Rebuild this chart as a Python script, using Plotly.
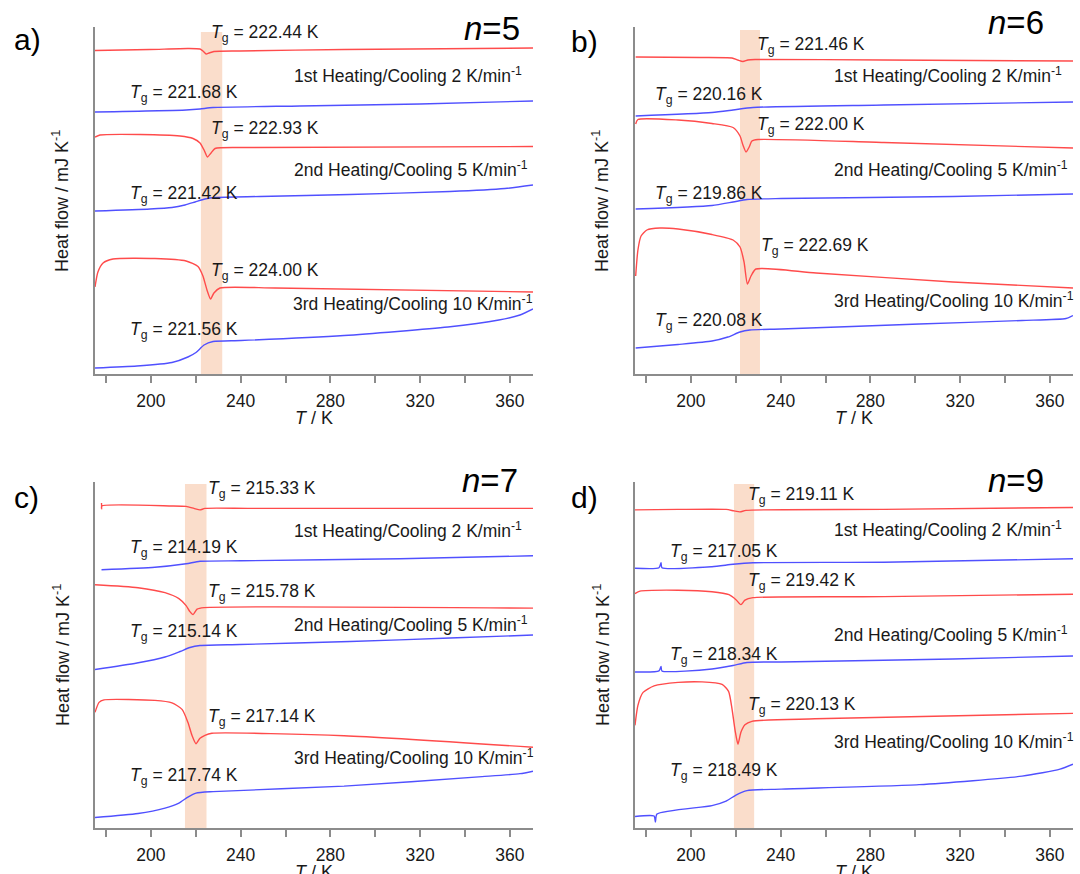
import plotly.graph_objects as go

# ---------------- data (T / K, heat flow offset in arbitrary units) ----------------
T_RANGE = [175.1, 370.3]
V_RANGE = [0, 347]
TICK_VALS = [180, 200, 220, 240, 260, 280, 300, 320, 340, 360]
TICK_TEXT = ["", "200", "", "240", "", "280", "", "320", "", "360"]
RUNS = ["1st Heating/Cooling 2 K/min", "2nd Heating/Cooling 5 K/min", "3rd Heating/Cooling 10 K/min"]
PANEL_TAGS = ["a)", "b)", "c)", "d)"]
PANEL_N = ["5", "6", "7", "9"]

# panel a (n=5)
a_heat1 = [(175.1, 323.5), (199.6, 324.5), (216.5, 325.5), (221.9, 325), (223.2, 323), (224.6, 320),
           (225.9, 321), (228.1, 322.5), (239.7, 323), (286.1, 324.5), (370.3, 326)]
a_cool1 = [(175.1, 262), (215.7, 264), (221.9, 265), (227.7, 266.5), (266.4, 268), (319.9, 270), (370.3, 273)]
a_heat2 = [(175.1, 237), (177.3, 239), (195.2, 239.5), (213, 238), (218.8, 235.5), (221.9, 231), (223.7, 224),
           (225.2, 217), (226.8, 221), (228.6, 225.5), (239.7, 226.5), (370.3, 227.5)]
a_cool2 = [(175.1, 163), (199.6, 165), (209.4, 166.5), (215.2, 169), (219.7, 172), (224.1, 175), (228.6, 176.5),
           (248.6, 177.5), (288.7, 179.5), (333.3, 182.5), (357.8, 185.5), (370.3, 189)]
a_heat3 = [(175.1, 87), (176.4, 102), (178.7, 111), (183.1, 115), (201.8, 115.5), (215.7, 113), (221, 107.5),
           (223.2, 98), (225, 84), (226.6, 75), (228.1, 81), (230.8, 86), (255.3, 86), (370.3, 82)]
a_cool3 = [(175.1, 6), (193.8, 8), (209.4, 11.5), (216.5, 17), (220.1, 21.5), (223.7, 29), (227.7, 32.5),
           (240.2, 33.5), (286.1, 38.5), (332.4, 47), (355.1, 54), (364.5, 59), (370.3, 65)]
a_tg = ["222.44", "221.68", "222.93", "221.42", "224.00", "221.56"]
a_band = [222.3, 231.8]

# panel b (n=6)
b_heat1 = [(175.4, 317), (204, 316.5), (218.3, 316), (220.9, 314), (223.2, 312.5), (225.4, 314), (228.6, 314.5),
           (286, 314), (370.3, 313)]
b_cool1 = [(175.4, 258), (209.4, 261.5), (218.8, 264), (227.7, 266.5), (286, 269), (370.3, 272)]
b_heat2 = [(175.4, 250), (176.4, 254.5), (194.3, 254), (209.4, 250.5), (218.8, 246.5), (221.9, 238), (223.2, 229),
           (224.6, 222), (226, 227), (227.2, 233), (229.9, 234.5), (286, 231.5), (370.3, 226)]
b_cool2 = [(175.4, 165), (209.4, 168.5), (218.8, 172), (225, 174.5), (240.2, 175.5), (316.8, 177.5), (370.3, 180)]
b_heat3 = [(175.4, 98), (176.4, 124), (177.8, 138), (180.4, 144), (186.2, 146), (194.3, 145), (209.4, 139.5),
           (218.8, 134), (221.9, 127), (223.7, 112), (225.2, 90), (226.8, 98), (229, 105), (255.8, 101),
           (316.8, 92), (370.3, 86)]
b_cool3 = [(175.4, 26), (194.3, 29.5), (209.4, 33), (216.5, 37), (221.9, 42), (226.3, 44), (240.2, 45),
           (301.7, 50), (347.6, 53.5), (367.2, 55.5), (370.3, 58.5)]
b_tg = ["221.46", "220.16", "222.00", "219.86", "222.69", "220.08"]
b_band = [221.9, 230.8]

# panel c (n=7)
c_heat1 = [(178, 326), (178.05, 320), (178.1, 323), (209.4, 323), (215.7, 322.5), (219.2, 320.5), (221.9, 319),
           (224.1, 320.5), (244.2, 320.5), (370.3, 320.5)]
c_cool1 = [(178, 259), (201.8, 261.5), (215.7, 265), (221.9, 267.5), (240.2, 268), (311, 270), (370.3, 273)]
c_heat2 = [(175.1, 244), (194.3, 241), (206.3, 236), (212.5, 230), (215.7, 223), (217.4, 217), (218.8, 214),
           (220.6, 219.5), (223.7, 221), (370.3, 220.5)]
c_cool2 = [(175.1, 159), (193.8, 165.5), (206.3, 171.5), (213, 177), (217.4, 181), (221.9, 183), (239.7, 184),
           (288.7, 187), (333.3, 190.5), (370.3, 193.5)]
c_heat3 = [(175.1, 116), (176.9, 126), (179.1, 128.5), (201.8, 128), (209.4, 125.5), (213.9, 119), (216.5, 106),
           (218.3, 93), (220.1, 84.5), (221.9, 90), (224.1, 93), (227.2, 95), (286.1, 92.5), (370.3, 81)]
c_cool3 = [(175.1, 10.5), (194.3, 14.5), (206.3, 20), (212.5, 25), (216.5, 31), (220.1, 35), (227.7, 36.5),
           (286.1, 42), (347.6, 51.5), (364.5, 54.5), (370.3, 57)]
c_tg = ["215.33", "214.19", "215.78", "215.14", "217.14", "217.74"]
c_band = [215.2, 224.8]

# panel d (n=9)
d_heat1 = [(175.1, 319), (194.3, 319.5), (215.7, 319.5), (219.2, 318), (221.9, 317), (224.6, 318.5), (286, 319.5),
           (370.3, 321.5)]
d_cool1 = [(175.1, 260.5), (185.8, 261), (186.7, 266), (187.1, 261), (209.4, 262), (218.8, 264.5), (227.7, 266),
           (286, 266.5), (370.3, 270)]
d_heat2 = [(175.1, 235), (177.3, 237.5), (194.3, 238.5), (209.4, 237), (217, 234), (220.1, 229), (222.3, 224),
           (224.1, 228.5), (227.7, 231), (286, 232), (370.3, 234.5)]
d_cool2 = [(175.1, 156.5), (185.8, 157.5), (186.7, 162), (187.1, 157.5), (209.4, 159.5), (218.8, 163),
           (225, 166), (240.2, 166.5), (316.8, 169.5), (370.3, 172.5)]
d_heat3 = [(175.1, 103), (176.4, 123), (178.7, 136), (183.6, 142.5), (194.3, 146), (205, 146.5), (213.9, 144),
           (216.8, 137), (218.3, 120), (219.7, 98), (221, 84), (222.3, 96), (224.1, 103.5), (227.2, 107),
           (255.3, 109.5), (370.3, 115)]
d_cool3 = [(175.1, 11.5), (183.6, 12), (184.2, 6), (184.9, 14), (209.4, 22.5), (215.7, 27), (220.1, 33),
           (225, 37.5), (240.2, 39), (301.7, 43.5), (347.6, 52), (364.5, 59), (370.3, 64)]
d_tg = ["219.11", "217.05", "219.42", "218.34", "220.13", "218.49"]
d_band = [219.2, 228.2]

panels = [
    dict(heat=[a_heat1, a_heat2, a_heat3], cool=[a_cool1, a_cool2, a_cool3], tg=a_tg, band=a_band),
    dict(heat=[b_heat1, b_heat2, b_heat3], cool=[b_cool1, b_cool2, b_cool3], tg=b_tg, band=b_band),
    dict(heat=[c_heat1, c_heat2, c_heat3], cool=[c_cool1, c_cool2, c_cool3], tg=c_tg, band=c_band),
    dict(heat=[d_heat1, d_heat2, d_heat3], cool=[d_cool1, d_cool2, d_cool3], tg=d_tg, band=d_band),
]

# ---------------- layout geometry (pixels) ----------------
W, H = 1080, 874
XDOM = [(95, 533), (635, 1073), (95, 533), (635, 1073)]
YDOM = [(27, 374), (27, 374), (482, 828), (482, 828)]
BAND_TOP = [342, 344, 345, 345]
# Tg label anchors: heat1, cool1, heat2, cool2, heat3, cool3 (left x, center y)
TG_POS = [
    [(209, 31), (128, 91), (209, 126), (128, 191), (209, 268), (128, 327)],
    [(755, 42), (653, 92), (755, 123), (653, 191), (759, 244), (653, 318)],
    [(206, 486), (128, 545), (206, 589), (128, 629), (206, 714), (128, 773)],
    [(746, 492), (668, 549), (746, 578), (668, 652), (746, 702), (668, 768)],
]
RUN_POS = [
    [(292, 77), (292, 171), (291, 305)],
    [(832, 77), (832, 171), (832, 302)],
    [(292, 532), (292, 626), (292, 759)],
    [(832, 531), (832, 636), (832, 743)],
]
N_POS = [(522, 29), (1046, 22), (520, 481), (1046, 481)]
TAG_POS = [(12, 40), (569, 41), (12, 497), (569, 497)]
YTITLE_POS = [(61, 201), (601, 201), (61, 655), (601, 655)]
XTITLE_POS = [(314, 418), (854, 418), (314, 872), (854, 872)]

RED = "rgb(255,75,75)"
BLUE = "rgb(80,80,255)"
AXIS_COL = "rgb(140,140,140)"
TXT = "rgb(25,25,25)"
FONT = "Liberation Sans, Arial, Helvetica, sans-serif"


def px(x, y):
    return x / W, 1 - y / H


fig = go.Figure()
annotations = []
shapes = []

for i, p in enumerate(panels):
    sfx = "" if i == 0 else str(i + 1)
    xa, ya = "x" + sfx, "y" + sfx
    for curve, col in [(c, RED) for c in p["heat"]] + [(c, BLUE) for c in p["cool"]]:
        fig.add_trace(go.Scatter(
            x=[pt[0] for pt in curve], y=[pt[1] for pt in curve],
            mode="lines", line=dict(color=col, width=1.4, shape="spline", smoothing=0.6),
            xaxis=xa, yaxis=ya, showlegend=False, hoverinfo="skip"))

    x0, x1 = XDOM[i]
    y0, y1 = YDOM[i]
    fig.update_layout(**{
        "xaxis" + sfx: dict(
            domain=[x0 / W, x1 / W], range=T_RANGE, anchor=ya,
            showline=True, linecolor=AXIS_COL, linewidth=1.8,
            ticks="outside", ticklen=7, tickwidth=1.5, tickcolor=AXIS_COL,
            tickmode="array", tickvals=TICK_VALS, ticktext=TICK_TEXT,
            tickfont=dict(family=FONT, size=17.5, color=TXT),
            showgrid=False, zeroline=False, ticklabelstandoff=3),
        "yaxis" + sfx: dict(
            domain=[1 - y1 / H, 1 - y0 / H], range=V_RANGE, anchor=xa,
            showline=True, linecolor=AXIS_COL, linewidth=1.8,
            showticklabels=False, ticks="", showgrid=False, zeroline=False),
    })

    shapes.append(dict(type="rect", xref=xa, yref=ya, x0=p["band"][0], x1=p["band"][1],
                       y0=0, y1=BAND_TOP[i], fillcolor="rgba(245,180,140,0.45)",
                       line=dict(width=0), layer="below"))

    for (lx, ly), val in zip(TG_POS[i], p["tg"]):
        ax, ay = px(lx, ly + 3)
        annotations.append(dict(
            x=ax, y=ay, xref="paper", yref="paper", xanchor="left", yanchor="middle",
            text="<i>T</i><sub>g</sub> = " + val + " K", showarrow=False,
            font=dict(family=FONT, size=17.5, color=TXT)))
    for (lx, ly), run in zip(RUN_POS[i], RUNS):
        ax, ay = px(lx, ly - 2)
        annotations.append(dict(
            x=ax, y=ay, xref="paper", yref="paper", xanchor="left", yanchor="middle",
            text=run + "<sup>-1</sup>", showarrow=False,
            font=dict(family=FONT, size=17.5, color=TXT)))
    ax, ay = px(*N_POS[i])
    annotations.append(dict(x=ax, y=ay, xref="paper", yref="paper", xanchor="right", yanchor="middle",
                            text="<i>n</i>=" + PANEL_N[i], showarrow=False,
                            font=dict(family=FONT, size=33, color="black")))
    ax, ay = px(*TAG_POS[i])
    annotations.append(dict(x=ax, y=ay, xref="paper", yref="paper", xanchor="left", yanchor="middle",
                            text=PANEL_TAGS[i], showarrow=False,
                            font=dict(family=FONT, size=30, color="black")))
    ax, ay = px(*YTITLE_POS[i])
    annotations.append(dict(x=ax, y=ay, xref="paper", yref="paper", xanchor="center", yanchor="middle",
                            text="Heat flow / mJ K<sup>-1</sup>", textangle=-90, showarrow=False,
                            font=dict(family=FONT, size=18, color=TXT)))
    ax, ay = px(*XTITLE_POS[i])
    annotations.append(dict(x=ax, y=ay, xref="paper", yref="paper", xanchor="center", yanchor="middle",
                            text="<i>T</i> / K", showarrow=False,
                            font=dict(family=FONT, size=18, color=TXT)))

fig.update_layout(
    width=W, height=H, margin=dict(l=0, r=0, t=0, b=0),
    paper_bgcolor="white", plot_bgcolor="white",
    annotations=annotations, shapes=shapes, showlegend=False)

fig.write_html("out.html")
